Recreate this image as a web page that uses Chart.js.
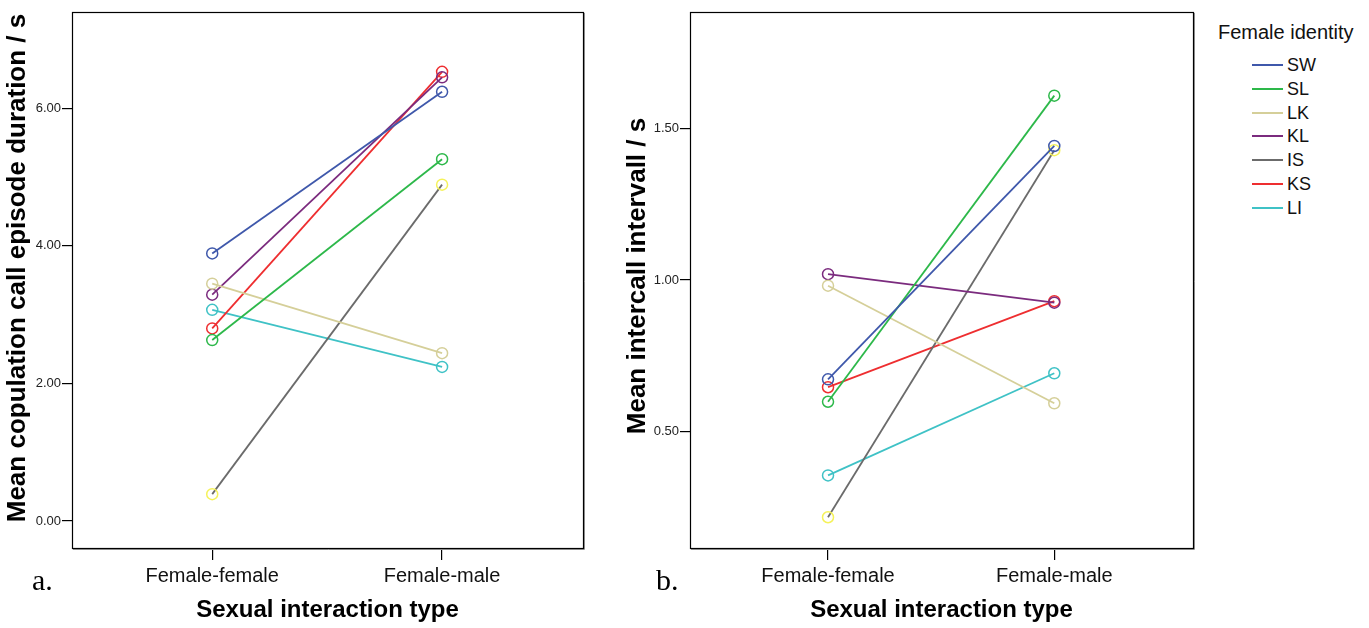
<!DOCTYPE html>
<html>
<head>
<meta charset="utf-8">
<script src="https://cdn.jsdelivr.net/npm/chart.js@4.4.1/dist/chart.umd.min.js"></script>
<style>
  html, body { margin: 0; padding: 0; background: #fff; }
  body { width: 1369px; height: 628px; position: relative; overflow: hidden; font-family: "Liberation Sans", Arial, sans-serif; }
  .panel { position: absolute; top: 0; }
  #legend { position: absolute; left: 1218px; top: 20px; color: #111; }
  #legend .title { font-size: 20px; line-height: 24px; white-space: nowrap; }
  #legend .item { position: absolute; left: 34px; height: 24px; white-space: nowrap; font-size: 18px; }
  #legend .swatch { position: absolute; left: 0; top: 11px; width: 31px; height: 2px; }
  #legend .lbl { position: absolute; left: 35px; top: 1px; line-height: 22px; }
</style>
</head>
<body>
<canvas id="chartA" class="panel" style="left:0px" width="610" height="628"></canvas>
<canvas id="chartB" class="panel" style="left:620px" width="590" height="628"></canvas>
<div id="legend"></div>
<script>
// Interaction types on the x axis
const categories = ['Female-female', 'Female-male'];

// Females and their line / marker colours
const females = ['SW', 'SL', 'LK', 'KL', 'IS', 'KS', 'LI'];
const lineColors = ['#3f58ab', '#2db84a', '#d5cf99', '#7b2b7e', '#6b6b6b', '#ee2e30', '#3fc2c6'];
const markerColors = ['#3f58ab', '#2db84a', '#d5cf99', '#7b2b7e', '#f5f25a', '#ee2e30', '#3fc2c6'];

// a. Mean copulation call episode duration (s)
const durationFF = [3.89, 2.63, 3.45, 3.29, 0.39, 2.80, 3.07];
const durationFM = [6.24, 5.26, 2.44, 6.45, 4.89, 6.53, 2.24];
const durationTicks = [0, 2, 4, 6];

// b. Mean intercall interval (s)
const intervalFF = [0.672, 0.598, 0.981, 1.019, 0.217, 0.646, 0.355];
const intervalFM = [1.442, 1.608, 0.593, 0.925, 1.428, 0.930, 0.692];
const intervalTicks = [0.5, 1.0, 1.5];

const xTitle = 'Sexual interaction type';
const legendTitle = 'Female identity';

const FONT = '"Liberation Sans", Arial, sans-serif';

// Frame, axis titles and panel letter
const panelDecor = {
  id: 'panelDecor',
  afterDraw(chart, args, opts) {
    const ctx = chart.ctx;
    const a = chart.chartArea;
    ctx.save();
    // plot frame
    ctx.strokeStyle = '#9a9a9a';
    ctx.lineWidth = 1;
    ctx.beginPath();
    ctx.moveTo(a.right + 1.5, a.top + 1);
    ctx.lineTo(a.right + 1.5, a.bottom + 1.5);
    ctx.lineTo(a.left + 1, a.bottom + 1.5);
    ctx.stroke();
    ctx.strokeStyle = '#000';
    ctx.lineWidth = 1.2;
    ctx.strokeRect(Math.round(a.left) + 0.5, Math.round(a.top) + 0.5,
                   Math.round(a.right - a.left), Math.round(a.bottom - a.top));
    // y title
    ctx.fillStyle = '#000';
    ctx.textAlign = 'center';
    ctx.textBaseline = 'middle';
    ctx.save();
    ctx.font = 'bold ' + opts.yTitleSize + 'px ' + FONT;
    ctx.translate(opts.yTitleX, opts.yTitleY);
    ctx.rotate(-Math.PI / 2);
    ctx.fillText(opts.yTitle, 0, 0);
    ctx.restore();
    // x title
    ctx.font = 'bold 24px ' + FONT;
    ctx.fillText(xTitle, (a.left + a.right) / 2, 610);
    // panel letter
    ctx.font = '30px "Liberation Serif", "Times New Roman", serif';
    ctx.textAlign = 'left';
    ctx.textBaseline = 'alphabetic';
    ctx.fillText(opts.letter, opts.letterX, 590);
    ctx.restore();
  }
};

function buildDatasets(ff, fm) {
  return females.map((name, i) => ({
    label: name,
    data: [{ x: 1, y: ff[i] }, { x: 2, y: fm[i] }],
    borderColor: lineColors[i],
    borderWidth: 1.8,
    pointRadius: 5.5,
    pointHoverRadius: 5.5,
    pointBorderWidth: 1.5,
    pointBorderColor: markerColors[i],
    pointBackgroundColor: 'rgba(0,0,0,0)',
    tension: 0
  }));
}

function makeChart(id, ff, fm, ticks, yMin, yMax, yWidth, padRight, decor) {
  return new Chart(document.getElementById(id), {
    type: 'line',
    data: { datasets: buildDatasets(ff, fm) },
    options: {
      responsive: false,
      animation: false,
      events: [],
      layout: { padding: { top: 12, right: padRight, left: 0, bottom: 0 } },
      plugins: {
        legend: { display: false },
        tooltip: { enabled: false },
        panelDecor: decor
      },
      scales: {
        x: {
          type: 'linear',
          min: 0.39,
          max: 2.613,
          afterBuildTicks: s => { s.ticks = categories.map((c, i) => ({ value: i + 1 })); },
          afterFit: s => { s.height = 80; },
          border: { display: false },
          grid: { drawOnChartArea: false, drawTicks: true, tickLength: 12, color: '#000', lineWidth: 1.2 },
          ticks: {
            padding: 4,
            maxRotation: 0,
            color: '#111',
            font: { family: FONT, size: 20 },
            callback: v => categories[Math.round(v) - 1] || ''
          }
        },
        y: {
          type: 'linear',
          min: yMin,
          max: yMax,
          afterBuildTicks: s => { s.ticks = ticks.map(v => ({ value: v })); },
          afterFit: s => { s.width = yWidth; },
          border: { display: false },
          grid: { drawOnChartArea: false, drawTicks: true, tickLength: 10, color: '#000', lineWidth: 1.2 },
          ticks: {
            padding: 1,
            color: '#222',
            font: { family: FONT, size: 13 },
            callback: v => Number(v).toFixed(2)
          }
        }
      }
    },
    plugins: [panelDecor]
  });
}

makeChart('chartA', durationFF, durationFM, durationTicks, -0.393, 7.40, 72, 27,
  { yTitle: 'Mean copulation call episode duration / s', yTitleSize: 26, yTitleX: 18, yTitleY: 268, letter: 'a.', letterX: 32 });
makeChart('chartB', intervalFF, intervalFM, intervalTicks, 0.1155, 1.884, 70, 17,
  { yTitle: 'Mean intercall intervall / s', yTitleSize: 26, yTitleX: 18, yTitleY: 276, letter: 'b.', letterX: 36 });

// Legend
const legend = document.getElementById('legend');
const t = document.createElement('div');
t.className = 'title';
t.textContent = legendTitle;
legend.appendChild(t);
females.forEach((name, i) => {
  const it = document.createElement('div');
  it.className = 'item';
  it.style.top = (33 + i * 23.8) + 'px';
  const sw = document.createElement('div');
  sw.className = 'swatch';
  sw.style.background = lineColors[i];
  const lb = document.createElement('div');
  lb.className = 'lbl';
  lb.textContent = name;
  it.appendChild(sw);
  it.appendChild(lb);
  legend.appendChild(it);
});
</script>
</body>
</html>
